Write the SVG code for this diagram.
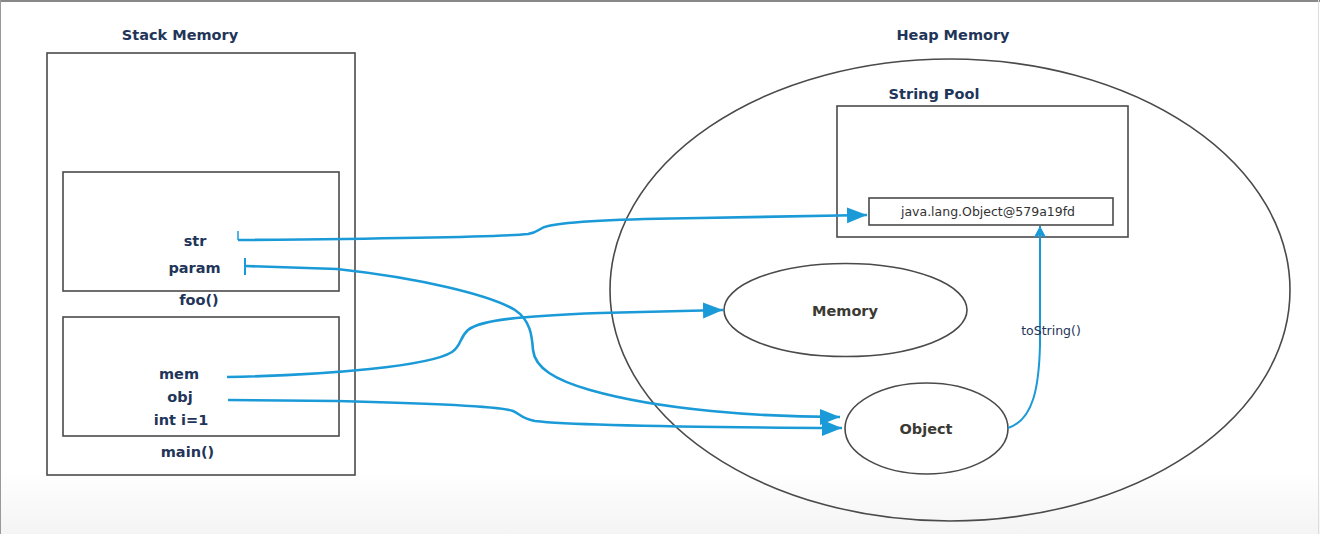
<svg xmlns="http://www.w3.org/2000/svg" width="1320" height="534" viewBox="0 0 1320 534">
<style>
.lbl{font-family:"DejaVu Sans",sans-serif;font-weight:bold;font-size:14.5px;fill:#1f3559;text-anchor:middle}
.obj{font-family:"DejaVu Sans",sans-serif;font-weight:bold;font-size:14.5px;fill:#3b3a33;text-anchor:middle}
.small{font-family:"DejaVu Sans",sans-serif;font-size:12.5px;fill:#333;text-anchor:middle}
.box{fill:none;stroke:#4a4a4a;stroke-width:1.6}
.conn{fill:none;stroke:#1b9ad8;stroke-width:2.6}
.thin{fill:none;stroke:#1b9ad8;stroke-width:2}
</style>
<defs>
<marker id="ah" markerUnits="userSpaceOnUse" markerWidth="22" markerHeight="18" refX="20" refY="8" orient="auto">
<path d="M0,0 L20,8 L0,16 Z" fill="#1b9ad8"/>
</marker>
<marker id="ahs" markerUnits="userSpaceOnUse" markerWidth="16" markerHeight="14" refX="12" refY="6.5" orient="auto">
<path d="M0,0 L12,6.5 L0,13 L3,6.5 Z" fill="#1b9ad8"/>
</marker>
<linearGradient id="bg" x1="0" y1="0" x2="0" y2="1">
<stop offset="0" stop-color="#ffffff"/>
<stop offset="1" stop-color="#f4f4f4"/>
</linearGradient>
</defs>
<rect x="0" y="0" width="1320" height="534" fill="#ffffff"/>
<rect x="0" y="470" width="1320" height="64" fill="url(#bg)"/>
<line x1="0" y1="1" x2="1320" y2="1" stroke="#888" stroke-width="2"/>
<line x1="0.5" y1="0" x2="0.5" y2="534" stroke="#999" stroke-width="1"/>
<line x1="1318.5" y1="0" x2="1318.5" y2="534" stroke="#ddd" stroke-width="1"/>

<g id="stack">
<text class="lbl" x="180" y="40">Stack Memory</text>
<rect class="box" x="47" y="53" width="308" height="422"/>
</g>
<g id="foo">
<rect class="box" x="63" y="172" width="276" height="119"/>
<text class="lbl" x="195" y="246">str</text>
<text class="lbl" x="194.5" y="273">param</text>
<text class="lbl" x="199" y="305">foo()</text>
</g>
<g id="main">
<rect class="box" x="63" y="317" width="276" height="119"/>
<text class="lbl" x="179" y="379">mem</text>
<text class="lbl" x="180" y="402">obj</text>
<text class="lbl" x="181" y="425">int i=1</text>
<text class="lbl" x="187.5" y="457">main()</text>
</g>
<g id="heap">
<text class="lbl" x="953" y="40">Heap Memory</text>
<ellipse class="box" cx="950" cy="290" rx="340" ry="231"/>
</g>
<g id="stringpool">
<text class="lbl" x="934" y="99">String Pool</text>
<rect class="box" x="837" y="106" width="291" height="131"/>
</g>
<g id="poolentry">
<rect class="box" x="869" y="198" width="244" height="27"/>
<text class="small" x="988" y="216">java.lang.Object@579a19fd</text>
</g>
<g id="memory">
<ellipse class="box" cx="845.5" cy="310" rx="121.5" ry="46.5"/>
<text class="obj" x="845" y="316">Memory</text>
</g>
<g id="object">
<ellipse class="box" cx="926.5" cy="428.5" rx="81.5" ry="45.5"/>
<text class="obj" x="926" y="434">Object</text>
</g>

<g id="connectors">
<line x1="238" y1="231" x2="238" y2="240" stroke="#1b9ad8" stroke-width="1.5"/>
<line x1="245" y1="258" x2="245" y2="275" stroke="#1b9ad8" stroke-width="2"/>
<path class="conn" marker-end="url(#ah)" d="M238,240 C350,239 500,237 528,234 C540,232 538,228 548,226 C570,221 620,219 700,218 L867,215"/>
<path class="conn" marker-end="url(#ah)" d="M245,266 L337,269 C420,278 490,295 515,310 C530,320 532,335 533,350 C535,368 555,380 590,390 C660,410 760,417 840,417"/>
<path class="conn" marker-end="url(#ah)" d="M227,377 C330,375 430,366 452,352 C462,345 459,338 468,330 C480,320 520,316 600,313 L723,310"/>
<path class="conn" marker-end="url(#ah)" d="M228,400 L337,401 C420,403 500,406 513,411 C520,414 522,419 535,421 C560,424 650,427 842,428"/>
<path class="thin" marker-end="url(#ahs)" d="M1008,428 C1034,420 1039,385 1040,345 L1040,226"/>
<text class="small" x="1051" y="335" style="fill:#1f3559">toString()</text>
</g>
</svg>
